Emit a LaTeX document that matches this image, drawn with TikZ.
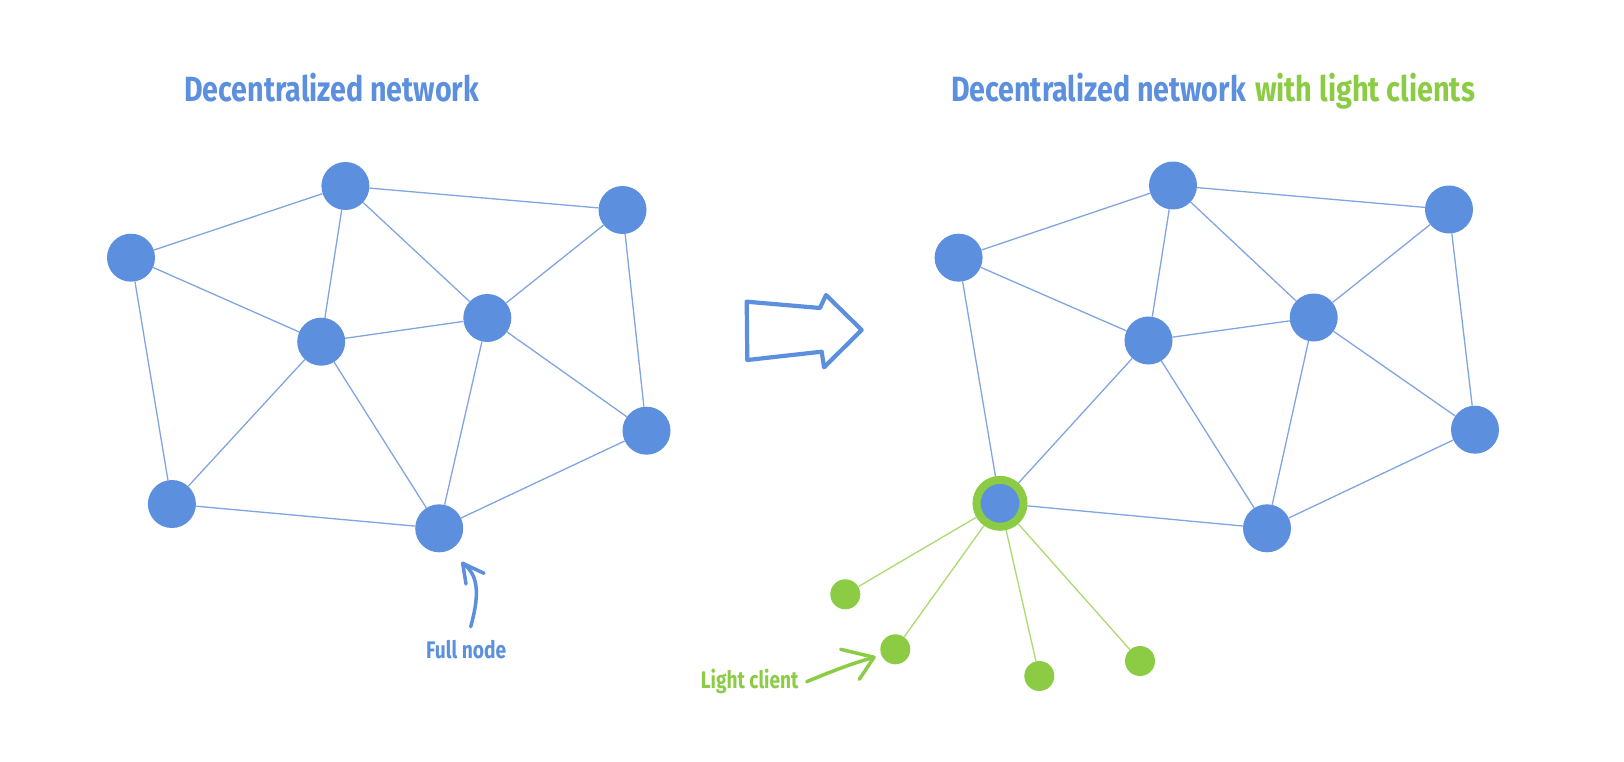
\documentclass[tikz,border=0pt]{standalone}
\usepackage{fontspec}
\usepackage{graphicx}
\setmainfont{Fira Sans}
\definecolor{nblue}{RGB}{92,143,221}
\definecolor{eblue}{RGB}{128,165,224}
\definecolor{lgreen}{RGB}{140,204,68}
\definecolor{egreen}{RGB}{172,217,112}
\newcommand\fitto[2]{\setbox0=\hbox{#2}\pgfmathsetmacro\fitratio{#1/\wd0}\scalebox{\fitratio}[1]{\box0}}
\begin{document}
\begin{tikzpicture}[x=1pt,y=-1pt,
  full/.style={circle,fill=nblue,minimum size=48pt,inner sep=0pt},
  ringed/.style={circle,fill=nblue,draw=lgreen,line width=8pt,minimum size=47pt,inner sep=0pt},
  light/.style={circle,fill=lgreen,minimum size=30pt,inner sep=0pt},
  link/.style={draw=eblue,line width=1.3pt},
  glink/.style={draw=egreen,line width=1.3pt},
  hand/.style={line width=3.5pt,line cap=round,line join=round},
  title/.style={font=\fontsize{35}{40}\selectfont\bfseries,inner sep=0pt,anchor=base west},
  lbl/.style={font=\fontsize{24}{28}\selectfont\bfseries,inner sep=0pt,anchor=base west}]
\useasboundingbox (0,0) rectangle (1624,762);

% titles
\node[title,text=nblue] (t1) at (184,102) {\fitto{295}{Decentralized network}};
\node[title,text=nblue] (t2a) at (950.8,102) {\fitto{295}{Decentralized network}};
\node[title,text=lgreen] (t2b) at (1254.8,102) {\fitto{220}{with light clients}};

% left network
\node[full] (A) at (345.4,186) {};
\node[full] (B) at (622.5,210) {};
\node[full] (C) at (131,257.7) {};
\node[full] (D) at (321.2,341.7) {};
\node[full] (E) at (487.3,318) {};
\node[full] (F) at (171.9,504) {};
\node[full] (G) at (646.5,430.7) {};
\node[full] (H) at (439.2,528.3) {};
\foreach \u/\v in {C/A,A/B,A/D,A/E,B/E,B/G,C/D,C/F,D/E,D/F,D/H,E/H,E/G,F/H,H/G}
  \draw[link] (\u) -- (\v);

% right network
\node[full] (A2) at (1173,185.5) {};
\node[full] (B2) at (1449,209.5) {};
\node[full] (C2) at (958.6,257.7) {};
\node[full] (D2) at (1148.5,340.5) {};
\node[full] (E2) at (1313.7,317.5) {};
\node[ringed] (F2) at (1000,503.3) {};
\node[full] (G2) at (1475,429.7) {};
\node[full] (H2) at (1267,528.3) {};
\foreach \u/\v in {C2/A2,A2/B2,A2/D2,A2/E2,B2/E2,B2/G2,C2/D2,C2/F2,D2/E2,D2/F2,D2/H2,E2/H2,E2/G2,F2/H2,H2/G2}
  \draw[link] (\u) -- (\v);

% light clients
\node[light] (L1) at (845.3,594.3) {};
\node[light] (L2) at (895.3,649.3) {};
\node[light] (L3) at (1039.3,676) {};
\node[light] (L4) at (1140,661) {};
\foreach \v in {L1,L2,L3,L4}
  \draw[glink] (F2) -- (\v);

% big arrow
\draw[hand,line width=4.2pt,draw=nblue] (746.7,301.7) -- (820,308) -- (826,295) -- (861.7,330) -- (824,367.3) -- (821.7,351.7) -- (747.3,360) -- cycle;

% labels
\node[lbl,text=nblue] (fn) at (426,658.3) {\fitto{80}{Full node}};
\node[lbl,text=lgreen] (lc) at (700.7,688) {\fitto{97.6}{Light client}};

% hand arrows
\coordinate (fa0) at (470.7,626.7);
\coordinate (fat) at (462.7,563.3);
\draw[hand,draw=nblue] (fa0) .. controls (478,600) and (481,576) .. (fat);
\draw[hand,draw=nblue] (466,584) -- (fat) -- (484,573.3);
\coordinate (la0) at (806.7,681.7);
\coordinate (lat) at (874,657.3);
\draw[hand,draw=lgreen] (la0) .. controls (830,672) and (850,664) .. (lat);
\draw[hand,draw=lgreen] (840.7,649.3) -- (lat) -- (859.3,679.3);
\end{tikzpicture}
\end{document}
